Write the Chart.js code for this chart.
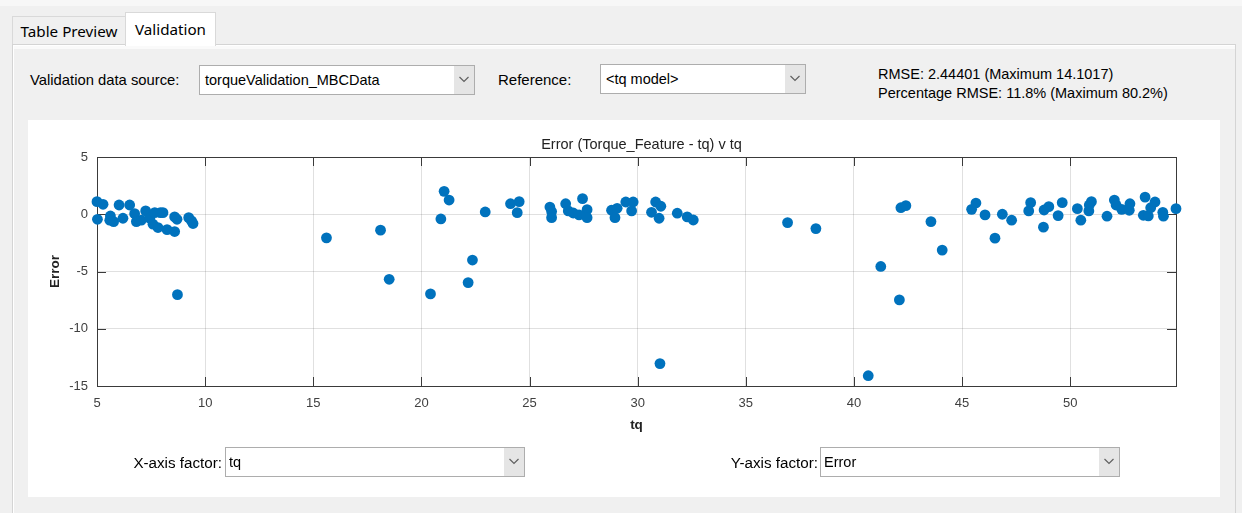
<!DOCTYPE html>
<html>
<head>
<meta charset="utf-8">
<script src="https://cdn.jsdelivr.net/npm/chart.js@4/dist/chart.umd.min.js"></script>
<style>
  body { margin: 0; width: 1242px; height: 513px; background: #f0f0f0; position: relative; overflow: hidden;
         font-family: "Liberation Sans", Arial, sans-serif; font-size: 14.5px; color: #000; }
  .abs { position: absolute; }
  .tab { position: absolute; border: 1px solid #d9d9d9; font-family: "Noto Sans", sans-serif; font-size: 15.2px;
         text-align: center; box-sizing: border-box; color: #000; }
  .panel { left: 12px; top: 44px; width: 1224px; height: 480px; border: 1px solid #d4d4d4; box-sizing: border-box;
           box-shadow: inset 1px 1px 0 #fff, inset 0 4px 0 #fafafa; }
  .lbl { position: absolute; line-height: 16px; white-space: nowrap; }
  .dd { position: absolute; background: #fff; border: 1px solid #adadad; box-sizing: border-box; }
  .dd span { position: absolute; left: 5px; top: 6px; line-height: 16px; white-space: nowrap; }
  .dd .arr { position: absolute; right: 0; top: 0; bottom: 0; width: 20px; background: #e5e5e5; }
  .dd svg { position: absolute; left: 5px; top: 10px; }
  .plot { left: 28px; top: 120px; width: 1192px; height: 377px; background: #fff; }
</style>
</head>
<body>
<div class="abs" style="left:0;top:0;width:1242px;height:6px;background:#f7f7f7"></div>
<div class="tab" style="left:12px;top:16px;width:114px;height:29px;line-height:28px;background:#f0f0f0">Table Preview</div>
<div class="tab" style="left:125px;top:12px;width:91px;height:34px;line-height:32px;background:#fff;border-bottom:none;z-index:2">Validation</div>
<div class="abs panel"></div>

<div class="lbl" style="left:30px;top:72px;font-size:14.8px">Validation data source:</div>
<div class="dd" style="left:199px;top:65px;width:276px;height:30px"><span>torqueValidation_MBCData</span>
  <div class="arr"><svg width="10" height="7"><polyline points="0.5,1 5,5.5 9.5,1" fill="none" stroke="#606060" stroke-width="1.2"/></svg></div></div>
<div class="lbl" style="left:498px;top:72px;font-size:15px">Reference:</div>
<div class="dd" style="left:600px;top:64px;width:206px;height:30px"><span>&lt;tq model&gt;</span>
  <div class="arr"><svg width="10" height="7"><polyline points="0.5,1 5,5.5 9.5,1" fill="none" stroke="#606060" stroke-width="1.2"/></svg></div></div>
<div class="lbl" style="left:878px;top:66px">RMSE: 2.44401 (Maximum 14.1017)</div>
<div class="lbl" style="left:878px;top:85px">Percentage RMSE: 11.8% (Maximum 80.2%)</div>

<div class="abs plot"><canvas id="errChart" width="1192" height="377"></canvas></div>

<div class="lbl" style="right:1020px;top:455px;font-size:15.2px">X-axis factor:</div>
<div class="dd" style="left:225px;top:447px;width:300px;height:30px"><span style="left:3px">tq</span>
  <div class="arr"><svg width="10" height="7"><polyline points="0.5,1 5,5.5 9.5,1" fill="none" stroke="#606060" stroke-width="1.2"/></svg></div></div>
<div class="lbl" style="right:424px;top:455px;font-size:15.2px">Y-axis factor:</div>
<div class="dd" style="left:820px;top:447px;width:300px;height:30px"><span style="left:3px">Error</span>
  <div class="arr"><svg width="10" height="7"><polyline points="0.5,1 5,5.5 9.5,1" fill="none" stroke="#606060" stroke-width="1.2"/></svg></div></div>

<script>
// tq values (x)
const tq = [
  5.0, 5.02, 5.28, 5.62, 5.77, 5.59, 6.02, 6.20, 6.51, 6.74, 6.82, 7.05, 7.25, 7.44, 7.59, 7.82,
  7.67, 7.93, 8.05, 8.24, 8.59, 8.59, 8.70, 9.24, 9.37, 9.44, 8.72,
  15.61, 18.11, 18.51, 20.42, 20.90, 21.05, 21.28, 22.16, 22.36, 22.95, 24.12, 24.52, 24.43,
  25.94, 26.02, 26.02, 26.67, 26.79, 27.02, 27.45, 27.29, 27.66, 27.66,
  28.79, 28.95, 29.05, 29.45, 29.72, 29.79, 30.64, 30.83, 31.07, 30.99, 31.03, 31.83, 32.29, 32.57,
  36.93, 38.24, 40.66, 41.24, 42.10, 42.17, 42.40,
  43.56, 44.08, 45.44, 45.64, 46.06, 46.52, 46.86, 47.29, 48.08, 48.17, 48.76, 48.79, 49.01, 49.44,
  49.63, 50.33, 50.49, 50.86, 50.98, 50.88, 51.70, 52.04, 52.12, 52.38, 52.73, 52.76, 53.46, 53.38,
  53.61, 53.72, 53.92, 54.28, 54.31, 54.89
];
// Error = Torque_Feature - tq (y)
const err = [
  1.10, -0.44, 0.87, -0.15, -0.64, -0.52, 0.81, -0.35, 0.81, 0.05, -0.64, -0.52, 0.29, -0.35, -0.87, -1.16,
  0.14, 0.14, 0.14, -1.34, -1.51, -0.23, -0.44, -0.30, -0.58, -0.81, -7.02,
  -2.06, -1.39, -5.68, -6.96, -0.41, 2.00, 1.24, -5.97, -4.00, 0.20, 0.92, 1.10, 0.14,
  0.63, 0.23, -0.30, 0.92, 0.29, 0.11, 1.36, -0.06, 0.40, -0.30,
  0.35, -0.30, 0.52, 1.07, 0.29, 1.07, 0.17, 1.07, 0.70, -0.35, -13.04, 0.09, -0.23, -0.50,
  -0.73, -1.25, -14.10, -4.56, -7.48, 0.57, 0.75,
  -0.64, -3.13, 0.43, 0.98, -0.06, -2.09, 0.00, -0.52, 0.29, 1.01, -1.13, 0.37, 0.66, -0.12,
  1.01, 0.49, -0.52, 0.29, 1.10, 0.81, -0.17, 1.24, 0.81, 0.43, 0.35, 0.92, 1.50, -0.09,
  -0.15, 0.57, 1.07, 0.17, -0.17, 0.49
];
const xTicks = [5, 10, 15, 20, 25, 30, 35, 40, 45, 50];
const yTicks = [-15, -10, -5, 0, 5];

const chartTitle = 'Error (Torque_Feature - tq) v tq';
const axisColor = '#3a3a3a';
const fontFam = '"Liberation Sans", Arial, sans-serif';

// MATLAB style box, inward ticks and title
const matlabAxes = {
  id: 'matlabAxes',
  beforeDatasetsDraw(chart) {
    const { ctx, chartArea: a, scales: { x, y } } = chart;
    ctx.save();
    ctx.strokeStyle = axisColor;
    ctx.lineWidth = 1;
    ctx.strokeRect(Math.round(a.left) + 0.5, Math.round(a.top) + 0.5,
      Math.round(a.right - a.left), Math.round(a.bottom - a.top));
    const len = 9;
    ctx.beginPath();
    xTicks.forEach(v => {
      const px = Math.round(x.getPixelForValue(v)) + 0.5;
      ctx.moveTo(px, a.top); ctx.lineTo(px, a.top + len);
      ctx.moveTo(px, a.bottom); ctx.lineTo(px, a.bottom - len);
    });
    yTicks.forEach(v => {
      const py = Math.round(y.getPixelForValue(v)) + 0.5;
      ctx.moveTo(a.left, py); ctx.lineTo(a.left + len, py);
      ctx.moveTo(a.right, py); ctx.lineTo(a.right - len, py);
    });
    ctx.stroke();
    ctx.fillStyle = '#222';
    ctx.font = '14.5px ' + fontFam;
    ctx.textAlign = 'center';
    ctx.textBaseline = 'middle';
    ctx.fillText(chartTitle, (a.left + a.right) / 2 + 5, a.top - 12);
    ctx.restore();
  }
};

const ctx = document.getElementById('errChart').getContext('2d');
new Chart(ctx, {
  type: 'scatter',
  data: {
    datasets: [{
      label: 'Error',
      data: tq.map((v, i) => ({ x: v, y: err[i] })),
      backgroundColor: '#0072BD',
      borderColor: '#0072BD',
      borderWidth: 0,
      pointRadius: 5.4,
      pointHoverRadius: 5.4,
      clip: false
    }]
  },
  options: {
    responsive: false,
    animation: false,
    layout: { padding: { top: 37, right: 44, left: 0, bottom: 0 } },
    plugins: { legend: { display: false }, tooltip: { enabled: false } },
    scales: {
      x: {
        type: 'linear',
        min: 5,
        max: 54.89,
        afterFit: s => { s.height = 111; },
        afterBuildTicks: s => { s.ticks = xTicks.map(v => ({ value: v })); },
        ticks: { color: '#404040', padding: 10, font: { size: 13, family: fontFam }, maxRotation: 0 },
        grid: { color: 'rgba(38,38,38,0.14)', drawTicks: false },
        border: { display: false },
        title: { display: true, text: 'tq', color: '#222', padding: { top: 0, bottom: 64 },
                 font: { size: 13.5, weight: 'bold', family: fontFam } }
      },
      y: {
        type: 'linear',
        min: -15,
        max: 5,
        afterFit: s => { s.width = 69; },
        afterBuildTicks: s => { s.ticks = yTicks.map(v => ({ value: v })); },
        ticks: { color: '#404040', padding: 9, font: { size: 13, family: fontFam } },
        grid: { color: 'rgba(38,38,38,0.14)', drawTicks: false },
        border: { display: false },
        title: { display: true, text: 'Error', color: '#222', padding: { top: 19, bottom: 0 },
                 font: { size: 13.5, weight: 'bold', family: fontFam } }
      }
    }
  },
  plugins: [matlabAxes]
});
</script>
</body>
</html>
